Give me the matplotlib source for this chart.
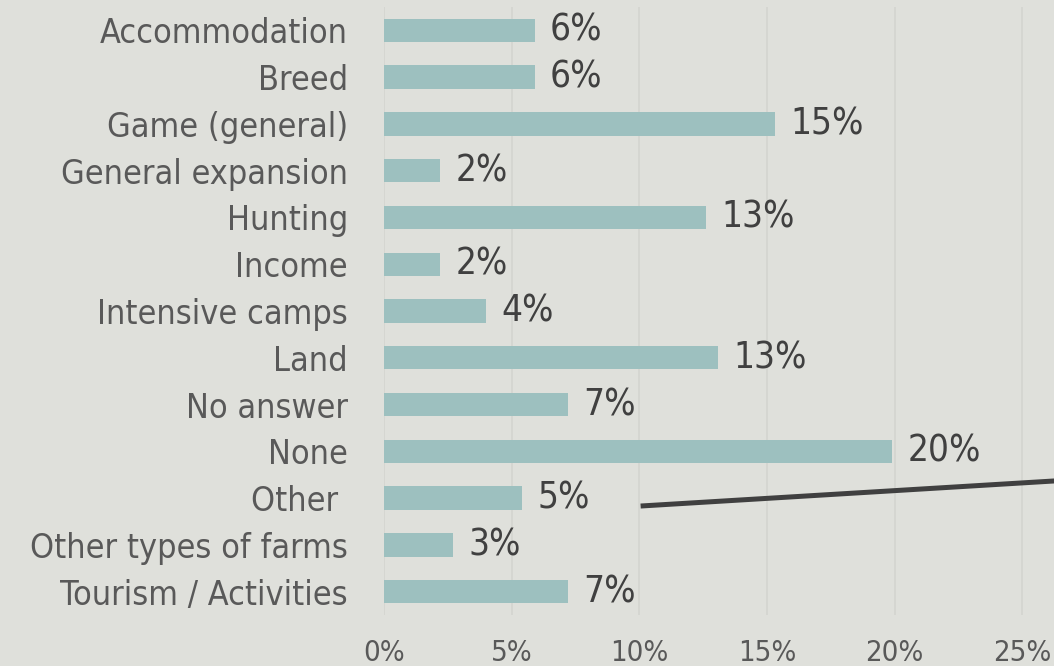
import matplotlib
matplotlib.use('Agg')
import matplotlib.pyplot as plt

categories = ['Accommodation', 'Breed', 'Game (general)', 'General expansion', 'Hunting',
              'Income', 'Intensive camps', 'Land', 'No answer', 'None', 'Other ',
              'Other types of farms', 'Tourism / Activities']
values = [5.9, 5.9, 15.3, 2.2, 12.6, 2.2, 4.0, 13.1, 7.2, 19.9, 5.4, 2.7, 7.2]
labels = ['6%', '6%', '15%', '2%', '13%', '2%', '4%', '13%', '7%', '20%', '5%', '3%', '7%']
xticks = [0, 5, 10, 15, 20, 25]

bg = '#dfe0db'
bar_color = '#9dc0bf'

# narrow DejaVu stands in for Tahoma
plt.rcParams['font.family'] = 'DejaVu Sans'
plt.rcParams['font.stretch'] = 'condensed'

fig = plt.figure(figsize=(10.54, 6.66), dpi=100, facecolor=bg)
# axes runs past the right edge, as in the cropped original
ax = fig.add_axes([384 / 1054, 51 / 666, 766 / 1054, 608 / 666])
ax.set_facecolor(bg)

y = list(range(len(categories)))
ax.barh(y, values, height=0.5, color=bar_color, zorder=2)
for yi, v, lab in zip(y, values, labels):
    ax.text(v + 0.6, yi, lab, va='center', ha='left', fontsize=26.5, color='#404040')

ax.set_xlim(0, 30)
ax.set_ylim(len(categories) - 0.5, -0.5)
ax.set_yticks(y)
ax.set_yticklabels(categories, fontsize=24.5, color='#595959')
ax.set_xticks(xticks)
ax.set_xticklabels([f'{t}%' for t in xticks], fontsize=21, color='#595959')
ax.tick_params(axis='y', length=0, pad=26)
ax.tick_params(axis='x', length=0, pad=17)
ax.grid(axis='x', color='#d3d4d0', linewidth=1.2, zorder=0)
for s in ax.spines.values():
    s.set_visible(False)

# leader line toward something off to the right
ax.plot([10.05, 30], [10.17, 9.51], color='#404040', linewidth=3.6,
        solid_capstyle='butt', zorder=3, clip_on=False)

fig.savefig('out.png', dpi=100, facecolor=bg)
